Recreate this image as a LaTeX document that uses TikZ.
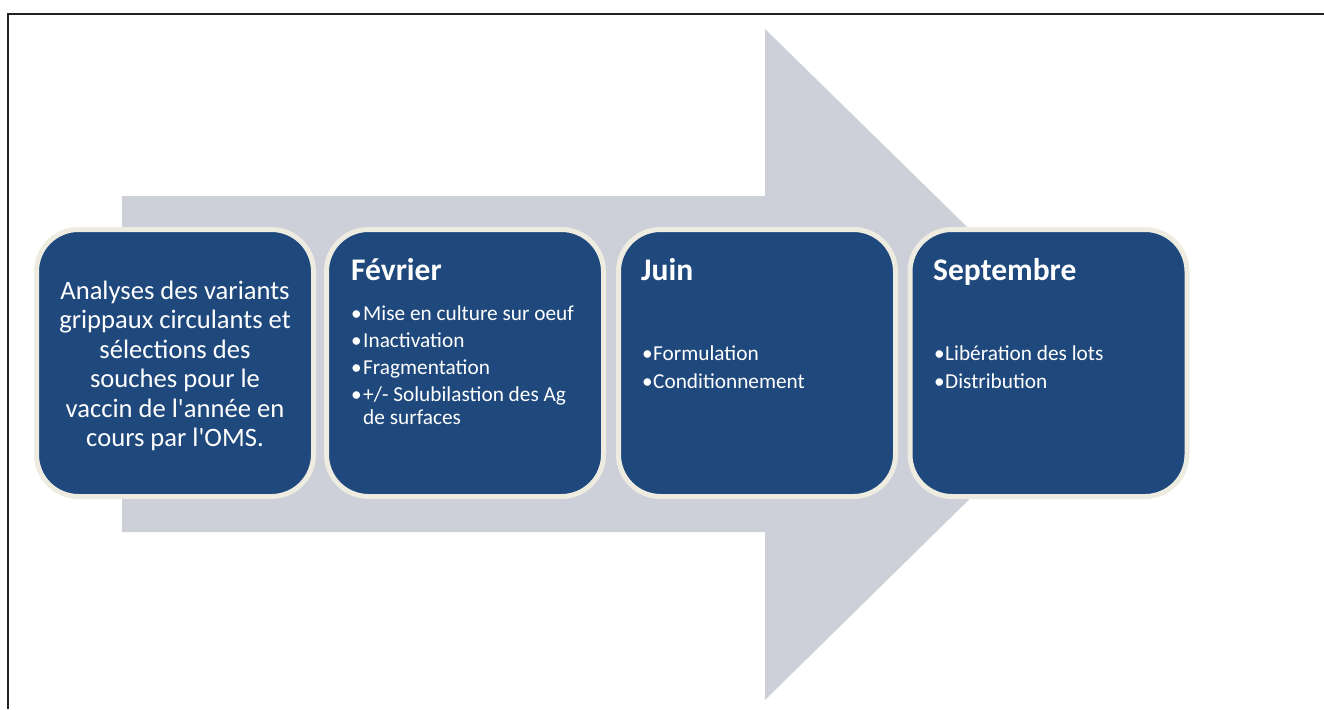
\documentclass[tikz,border=0pt]{standalone}
\usepackage{fontspec}
\setmainfont{Carlito}
\definecolor{navy}{HTML}{1F497D}
\definecolor{cream}{HTML}{EEECE1}
\definecolor{arrowgray}{HTML}{CDD0D9}
\definecolor{framegray}{HTML}{222222}
\tikzset{
  stage/.style={draw=cream, line width=5pt, fill=navy, rounded corners=42pt,
    minimum width=277pt, minimum height=267pt, inner sep=0pt},
  lead/.style={font=\fontsize{26.6}{29.4}\selectfont, text=white, align=center, inner sep=0pt},
  head/.style={font=\fontsize{31.5}{36}\selectfont\bfseries, text=white, anchor=base west, inner sep=0pt},
  item/.style={font=\fontsize{21.3}{25}\selectfont, text=white, anchor=base west, inner sep=0pt},
}
\begin{document}
\begin{tikzpicture}[x=1pt, y=-1pt]
\useasboundingbox (0,0) rectangle (1324,709);
% frame
\draw[framegray, line width=1.6pt] (8,709) -- (8,14) -- (1324,14);
% big arrow
\fill[arrowgray] (122,196) -- (765,196) -- (765,29) -- (1107,364) -- (765,700) -- (765,532) -- (122,532) -- cycle;
% boxes
\node[stage] (s1) at (175,363) {};
\node[stage] (s2) at (465,363) {};
\node[stage] (s3) at (757,363) {};
\node[stage] (s4) at (1048.5,363) {};
% box 1
\node[lead] (t1) at ([yshift=-3pt]s1.center) {Analyses des variants\\grippaux circulants et\\sélections des\\souches pour le\\vaccin de l\textquotesingle année en\\cours par l\textquotesingle OMS.};
% box 2
\node[head] (h2) at (351,280) {Février};
\node[item] (b21) at (351,320) {•};
\node[item] (i21) at (363,320) {Mise en culture sur oeuf};
\node[item] (b22) at (351,347) {•};
\node[item] (i22) at (363,347) {Inactivation};
\node[item] (b23) at (351,374) {•};
\node[item] (i23) at (363,374) {Fragmentation};
\node[item] (b24) at (351,401) {•};
\node[item] (i24) at (363,401) {+/- Solubilastion des Ag};
\node[item] (i25) at (363,424) {de surfaces};
% box 3
\node[head] (h3) at (641,280) {Juin};
\node[item] (b31) at (642,360) {•};
\node[item] (i31) at (653,360) {Formulation};
\node[item] (b32) at (642,388) {•};
\node[item] (i32) at (653,388) {Conditionnement};
% box 4
\node[head] (h4) at (933,280) {Septembre};
\node[item] (b41) at (934,360) {•};
\node[item] (i41) at (945,360) {Libération des lots};
\node[item] (b42) at (934,388) {•};
\node[item] (i42) at (945,388) {Distribution};
\end{tikzpicture}
\end{document}
